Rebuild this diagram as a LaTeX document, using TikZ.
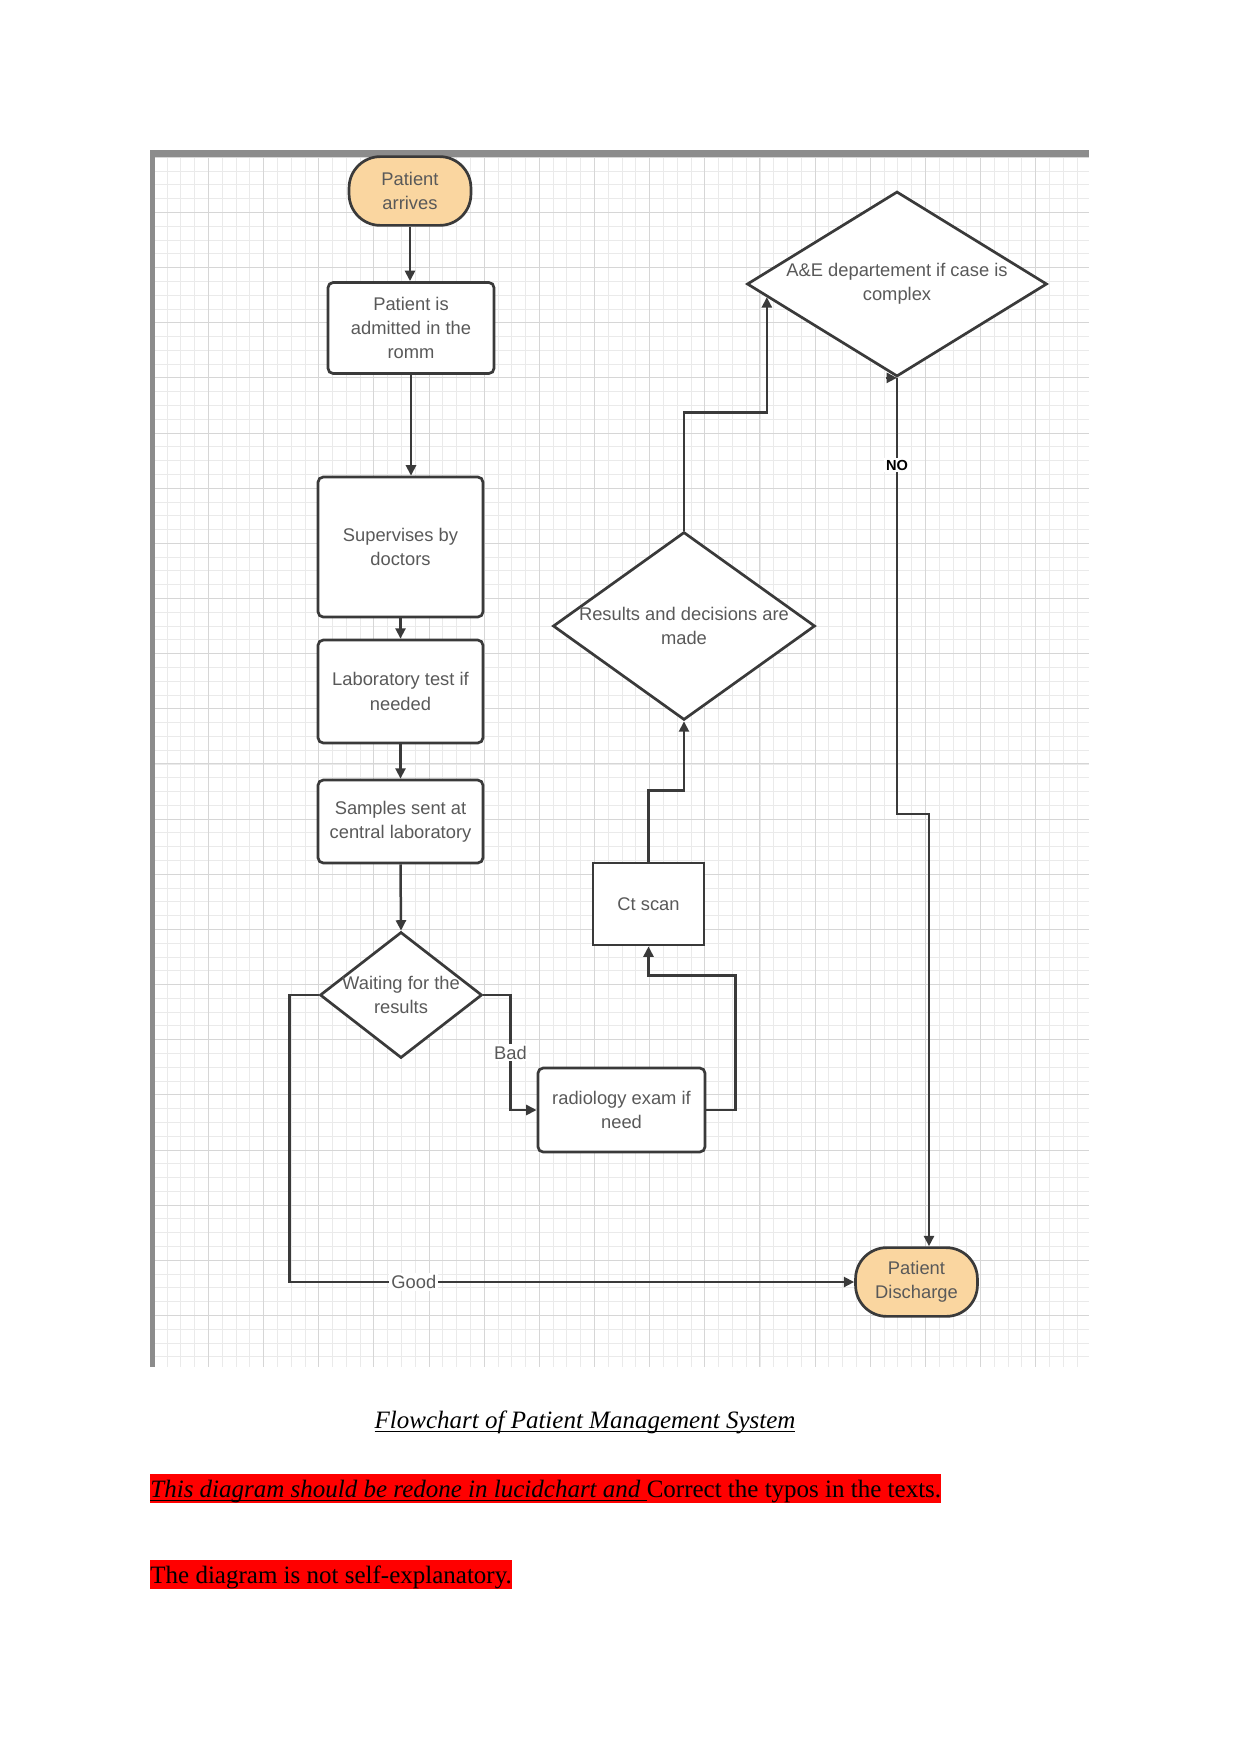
\documentclass[tikz,border=0pt]{standalone}
\usepackage{fontspec}
\setmainfont{Liberation Serif}
\newfontfamily\lucidfont{Liberation Sans}
\usetikzlibrary{shapes.geometric,arrows.meta,calc}

\definecolor{lucidorange}{HTML}{FAD6A0}
\definecolor{linegray}{HTML}{3A3A3A}
\definecolor{framegray}{HTML}{8C8C8C}
\definecolor{gridminor}{HTML}{EAEAEA}
\definecolor{gridmajor}{HTML}{D6D6D6}

\newcommand{\ulined}[1]{\underline{\smash{#1}}}

\tikzset{
  lucid/.style={font=\lucidfont\fontsize{8.8}{11.6}\selectfont, text=black!65, align=center},
  procbox/.style={lucid, draw=linegray, line width=1.3pt, fill=white, rounded corners=2.5pt},
  plainbox/.style={lucid, draw=linegray, line width=1.3pt, fill=white},
  terminal/.style={lucid, draw=linegray, line width=1.3pt, fill=lucidorange,
    rounded corners=15pt, minimum width=58.5pt, minimum height=33pt},
  decision/.style={diamond, draw=linegray, line width=1.3pt, fill=white, inner sep=0pt},
  dtext/.style={lucid},
  arr/.style={draw=linegray, line width=1.2pt, -{Triangle[length=5pt,width=4.8pt]}},
  lbl/.style={lucid, fill=white, inner sep=1pt},
  nolbl/.style={font=\lucidfont\bfseries\fontsize{7}{8}\selectfont, text=black, fill=white, inner sep=1pt},
  gridthin/.style={draw=gridminor, line width=0.48pt},
  gridthick/.style={draw=gridmajor, line width=0.6pt},
  doctext/.style={font=\fontsize{12}{14}\selectfont, inner sep=0pt},
  hilite/.style={doctext, fill=red, text height=11pt, text depth=2.9pt}
}

\begin{document}
\begin{tikzpicture}[x=0.48pt, y=-0.48pt]

    \useasboundingbox (0,0) rectangle (1241,1754);

    % lucidchart grid, snapped to whole pixels
    \begin{scope}
        \clip (155,157) rectangle (1089,1367);
        \foreach \i in {0,...,67}
            \draw[gridthin] ({round(152.85+13.7875*\i)+0.5},157) -- ++(0,1210);
        \foreach \i in {0,...,87}
            \draw[gridthin] (155,{round(156.85+13.7875*\i)+0.5}) -- ++(934,0);
        \foreach \i in {0,...,16}
            \draw[gridthick] ({round(152.85+55.15*\i)+0.5},157) -- ++(0,1210);
        \foreach \i in {0,...,21}
            \draw[gridthick] (155,{round(156.85+55.15*\i)+0.5}) -- ++(934,0);
    \end{scope}
    \fill[framegray] (150,150) rectangle (1089,157);
    \fill[framegray] (150,150) rectangle (155,1367);

    % left column
    \node[terminal] (arrive) at (410,191) {Patient\\arrives};
    \node[procbox, minimum width=79.7pt, minimum height=43.7pt] (admit) at (411,328)
        {Patient is\\admitted in the\\romm};
    \node[procbox, minimum width=79.2pt, minimum height=67.2pt] (superv) at (400.5,547)
        {Supervises by\\doctors};
    \node[procbox, minimum width=79.2pt, minimum height=49.4pt] (labtest) at (400.5,691.5)
        {Laboratory test if\\needed};
    \node[procbox, minimum width=79.2pt, minimum height=39.8pt] (samples) at (400.5,821.5)
        {Samples sent at\\central laboratory};
    \node[decision, minimum width=77.8pt, minimum height=60.5pt,
        label={[dtext]center:Waiting for the\\results}] (wait) at (401,995) {};

    % right part
    \node[procbox, minimum width=80.2pt, minimum height=40.3pt] (radio) at (621.5,1110)
        {radiology exam if\\need};
    \node[plainbox, minimum width=53.3pt, minimum height=39.4pt] (ctscan) at (648.5,904) {Ct scan};
    \node[decision, minimum width=125.8pt, minimum height=90.2pt,
        label={[dtext]center:Results and decisions are\\made}] (results) at (684,626) {};
    \node[decision, minimum width=144pt, minimum height=88.8pt,
        label={[dtext]center:A\&E departement if case is\\complex}] (ae) at (897,284) {};
    \node[terminal] (discharge) at (916.5,1282) {Patient\\Discharge};

    % connectors
    \draw[arr] (arrive.south) -- (arrive.south |- admit.north);
    \draw[arr] (admit.south) -- (admit.south |- superv.north);
    \draw[arr] (superv.south) -- (labtest.north);
    \draw[arr] (labtest.south) -- (samples.north);
    \draw[arr] (samples.south) -- (wait.north);
    \draw[arr] (wait.east) -- ++(27,0) |- node[lbl, pos=0.25] {Bad} (radio.west);
    \draw[arr] (radio.east) -- ++(29,0) |- ($(ctscan.south)+(0,29)$) -- (ctscan.south);
    \draw[arr] (ctscan.north) -- ++(0,-71) -| (results.south);
    \draw[arr] (results.north) -- ++(0,-118) -| ($(ae.west)!0.14!(ae.south)$);
    \draw[arr] ($(ae.south)+(-11,0)$) -- (ae.south);
    \draw[arr] (ae.south) -- node[nolbl, pos=0.2] {NO} ++(0,436)
        -| ($(discharge.north)+(12.5,0)$);
    \draw[arr] (wait.west) -- ++(-29,0) |- node[lbl, pos=0.61] {Good} (discharge.west);

    % text under the picture
    \node[doctext, anchor=base] (caption) at (585,1428)
        {\ulined{\textit{Flowchart of Patient Management System}}};
    \node[hilite, anchor=base west] (note1) at (150,1497)
        {\ulined{\textit{This diagram should be redone in lucidchart and }}Correct the typos in the texts.};
    \node[hilite, anchor=base west] (note2) at (150,1583) {The diagram is not self-explanatory.};

\end{tikzpicture}
\end{document}
